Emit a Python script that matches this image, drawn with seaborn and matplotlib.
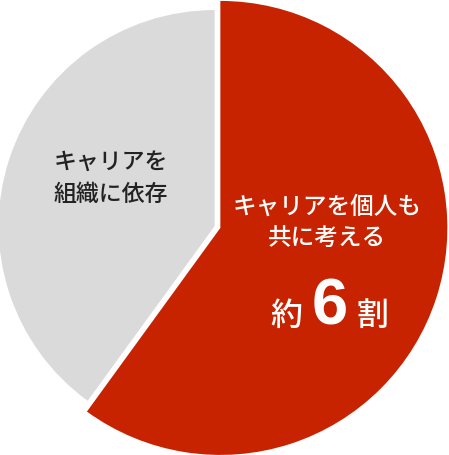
import matplotlib
matplotlib.use("Agg")
import matplotlib.pyplot as plt
import seaborn as sns

# data
labels = ["キャリアを\n個人も\n共に考える", "キャリアを\n組織に依存"]
shares = [60, 40]
colors = ["#C82300", "#DADADA"]
big_label = ["約", "6", "割"]

sns.set_theme(style="white")
plt.rcParams["font.family"] = ["Noto Sans CJK JP", "DejaVu Sans"]

W, H = 449, 455
R = 227.0            # red radius in px
cx, cy = 217.5, 227  # pie centre in px (from top-left)


def px(x, y):
    return (x - cx) / R, (cy - y) / R


fig = plt.figure(figsize=(W / 100, H / 100), dpi=100)
ax = fig.add_axes([0, 0, 1, 1])

gap = 3.0 / R
wedges, _ = ax.pie(shares, colors=colors, startangle=90, counterclock=False,
                   explode=[gap, gap], radius=1.0,
                   wedgeprops=dict(linewidth=0))
wedges[1].set_radius(216 / R)

ax.set_xlim(-cx / R, (W - cx) / R)
ax.set_ylim(-(H - cy) / R, cy / R)
ax.set_aspect("auto")
ax.axis("off")

# red slice text
ax.text(*px(327.5, 207), "キャリアを個人も", color="white", fontsize=17,
        weight="medium", ha="center", va="center")
ax.text(*px(327, 238), "共に考える", color="white", fontsize=17,
        weight="medium", ha="center", va="center")
ax.text(*px(286, 325), big_label[0], color="white", fontsize=23,
        weight="medium", ha="center", va="baseline")
ax.text(*px(330, 325), big_label[1], color="white", fontsize=47,
        weight="bold", ha="center", va="baseline",
        family=["Liberation Sans", "DejaVu Sans"])
ax.text(*px(372, 325), big_label[2], color="white", fontsize=23,
        weight="medium", ha="center", va="baseline")

# gray slice text
ax.text(*px(110.5, 162), "キャリアを", color="#222222", fontsize=16.5,
        weight="medium", ha="center", va="center")
ax.text(*px(110.5, 194), "組織に依存", color="#222222", fontsize=16.5,
        weight="medium", ha="center", va="center")

fig.savefig("out.png", dpi=100)
